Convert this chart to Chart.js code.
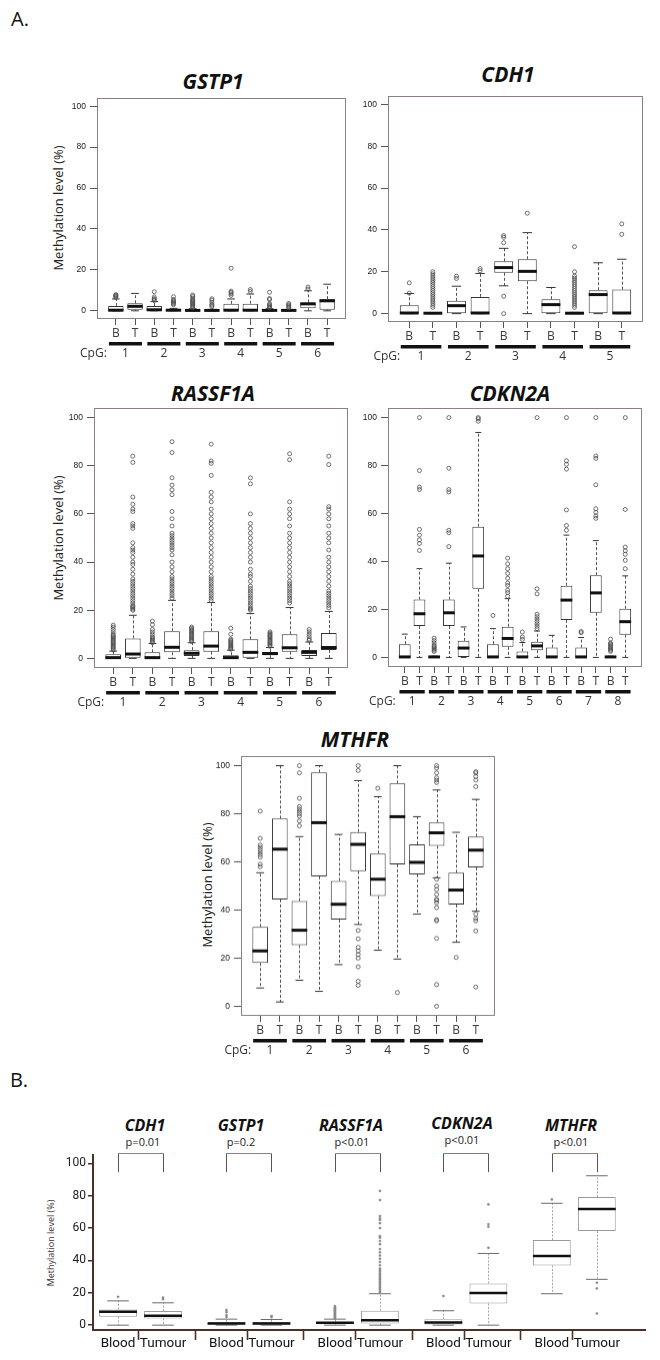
<!DOCTYPE html>
<html><head><meta charset="utf-8">
<script src="https://cdn.jsdelivr.net/npm/chart.js@4.4.0/dist/chart.umd.min.js"></script>
<style>
html,body{margin:0;padding:0;background:#fff;}
#page{position:relative;width:660px;height:1360px;overflow:hidden;background:#fff;font-family:"Open Sans",sans-serif;color:#111;}
canvas{position:absolute;}
.t{position:absolute;transform:translate(-50%,-50%);white-space:nowrap;line-height:1;}
.gt{font-weight:700;font-style:italic;font-size:21px;color:#111;}
.bt{font-weight:700;font-style:italic;font-size:16px;color:#111;}
.pv{font-size:11px;color:#222;}
.yt{transform:translate(-50%,-50%) rotate(-90deg);font-size:13px;color:#222;}
.lab{font-size:20px;color:#111;}
</style></head>
<body><div id="page">
<div class="t lab" style="left:20px;top:19px;">A.</div>
<div class="t gt" style="left:213px;top:81px;">GSTP1</div>
<div class="t gt" style="left:508px;top:74px;">CDH1</div>
<div class="t gt" style="left:213px;top:393px;">RASSF1A</div>
<div class="t gt" style="left:510px;top:393px;">CDKN2A</div>
<div class="t gt" style="left:355px;top:739px;">MTHFR</div>
<div class="t yt" style="left:58px;top:208px;">Methylation level (%)</div>
<div class="t yt" style="left:58px;top:538px;">Methylation level (%)</div>
<div class="t yt" style="left:207px;top:885px;">Methylation level (%)</div>
<div class="t lab" style="left:19px;top:1080px;">B.</div>
<div class="t bt" style="left:145px;top:1125px;">CDH1</div>
<div class="t bt" style="left:241px;top:1125px;">GSTP1</div>
<div class="t bt" style="left:351px;top:1125px;">RASSF1A</div>
<div class="t bt" style="left:462px;top:1123px;">CDKN2A</div>
<div class="t bt" style="left:571px;top:1125px;">MTHFR</div>
<div class="t pv" style="left:143px;top:1141px;">p=0.01</div>
<div class="t pv" style="left:241px;top:1141px;">p=0.2</div>
<div class="t pv" style="left:352px;top:1141px;">p&lt;0.01</div>
<div class="t pv" style="left:462px;top:1139px;">p&lt;0.01</div>
<div class="t pv" style="left:571px;top:1141px;">p&lt;0.01</div>
<div class="t" style="left:50px;top:1243px;transform:translate(-50%,-50%) rotate(-90deg);font-size:9px;color:#333;">Methylation level (%)</div>
</div>
<script>
// ================= DATA =================
const BT = ['B', 'T'];
const Y_TICKS = [0, 20, 40, 60, 80, 100];
const CPG_PREFIX = 'CpG:';

// ---- GSTP1 (B1,T1,B2,T2,...) ----
const gstp1CpG = ['1', '2', '3', '4', '5', '6'];
const gstp1Q1  = [0, 0.5, 0, 0, 0, 0, 0, 0, 0, 0, 1.2, 0.5];
const gstp1Med = [0.3, 2.2, 0.5, 0.3, 0.2, 0.2, 0.3, 0.3, 0.2, 0.2, 3.4, 4.9];
const gstp1Q3  = [2.4, 3.7, 2.3, 0.5, 0.5, 0.3, 3.4, 3.5, 0.4, 0.3, 4.1, 5.7];
const gstp1Lo  = [0, 0, 0, 0, 0, 0, 0, 0, 0, 0, 0, 0];
const gstp1Hi  = [5.8, 8.5, 4.5, 1.2, 1.0, 0.7, 5.8, 8.2, 1.0, 0.7, 9.8, 13];
const gstp1Out = [
  [6.5, 7, 7.3, 7.6, 7.9], [],
  [5, 5.5, 6, 6.8, 9.3], [3, 3.5, 4, 4.5, 5, 5.5, 6.9],
  [1.5, 2, 2.5, 3, 3.5, 4, 4.5, 5, 5.5, 6.2, 7, 7.7], [2, 2.6, 3.2, 4.2, 5.2, 5.9],
  [7.5, 8.3, 9, 9.6, 20.8], [9.5, 10.4],
  [1.5, 2, 2.5, 3, 3.5, 5.5, 6, 9.1], [1.5, 2, 2.5, 3, 3.6],
  [10.6, 11.6], []
];

// ---- CDH1 ----
const cdh1CpG = ['1', '2', '3', '4', '5'];
const cdh1Q1  = [0, 0, 0, 0, 19.5, 15.5, 0, 0, 0, 0];
const cdh1Med = [0.3, 0.2, 3.8, 0.3, 22, 20.2, 4.3, 0.2, 9.1, 0.3];
const cdh1Q3  = [4, 0.3, 6.1, 8, 25, 26, 6.9, 0.3, 11.2, 11.5];
const cdh1Lo  = [0, 0, 0, 0, 13.3, 0, 0, 0, 0, 0];
const cdh1Hi  = [9.6, 0.5, 13.1, 19.2, 31.2, 38.7, 12.5, 0.6, 24.3, 26];
const cdh1Out = [
  [9.8, 14.7], [3, 4, 5, 6, 7, 8, 9, 10, 11, 12, 13, 14, 15, 16, 17, 18, 19, 20],
  [16.8, 17.9], [20.5, 21.5],
  [33.9, 36.5, 37.3, 8.3, 0], [48],
  [], [3, 4, 5, 6, 7, 8, 9, 10, 11, 12, 13, 14, 15, 16, 17, 18, 20, 32],
  [], [37.9, 42.9]
];

// ---- RASSF1A ----
const rassfCpG = ['1', '2', '3', '4', '5', '6'];
const rassfQ1  = [0, 0, 0, 2.5, 1, 2.8, 0, 0, 1.3, 2.8, 1, 3.5];
const rassfMed = [0.3, 1.8, 0.3, 4.6, 2.1, 5.1, 0.3, 2.5, 2, 4.4, 2.5, 4.5];
const rassfQ3  = [1.7, 8.3, 2.5, 11.3, 3.4, 11.3, 1.3, 7.9, 2.6, 10, 3.5, 10.5];
const rassfLo  = [0, 0, 0, 0, 0, 0, 0, 0, 0, 0, 0, 0];
const rassfHi  = [3, 17.9, 6.2, 24.1, 6.5, 23.2, 3.4, 18.6, 4.5, 21.1, 6.8, 19.5];
const rassfOut = [
  [3.5, 4, 4.5, 5, 5.5, 6, 6.5, 7, 7.5, 8, 8.5, 9, 9.5, 10, 11, 12, 13, 13.8],
  [20, 20.5, 21, 21.5, 22, 23, 24, 25, 26, 27, 28, 29, 30, 31, 32, 33, 35, 37, 39, 40, 42, 44, 45, 46, 48, 54, 55, 56, 61, 62, 64, 67, 81.4, 84],
  [6.5, 7, 7.5, 8, 8.5, 9, 10, 11, 12, 14, 15.5],
  [25, 26, 27, 28, 29, 30, 31, 32, 33, 34, 36, 38, 40, 43, 45, 46, 47, 48, 49, 50, 51, 52, 55, 58, 61, 68, 70, 72, 75, 85.5, 90],
  [7, 7.5, 8, 8.5, 9, 9.5, 10, 10.5, 11, 11.5, 12, 12.5, 13],
  [24, 25, 26, 27, 28, 29, 30, 31, 32, 33, 34, 36, 38, 40, 42, 44, 46, 48, 50, 52, 54, 56, 58, 60, 62, 65, 67, 69, 76, 81, 82, 89],
  [3.8, 4.2, 4.6, 5, 5.5, 6, 6.5, 7, 7.5, 8, 10, 12.5],
  [20, 20.5, 21, 22, 23, 24, 25, 26, 27, 28, 29, 30, 32, 34, 35, 37, 40, 42, 44, 46, 48, 50, 52, 54, 56, 60, 72.5, 75],
  [5, 5.5, 6, 6.5, 7, 7.5, 8, 8.5, 9, 9.5, 10, 10.5, 11],
  [23, 24, 25, 26, 27, 28, 29, 30, 31, 32, 34, 36, 38, 40, 42, 44, 46, 48, 50, 52, 55, 58, 60, 62, 65, 82.5, 85],
  [7.5, 8, 9, 10, 11, 12],
  [21, 22, 23, 24, 25, 26, 27, 28, 30, 32, 34, 36, 38, 40, 42, 45, 48, 50, 52, 55, 58, 60, 62, 63, 80.5, 84]
];

// ---- CDKN2A ----
const cdknCpG = ['1', '2', '3', '4', '5', '6', '7', '8'];
const cdknQ1  = [0, 13.1, 0, 13.1, 0, 28.6, 0, 4.4, 0, 3, 0, 15.6, 0, 18.6, 0, 9.5];
const cdknMed = [0.2, 18.2, 0.2, 18.6, 3.9, 42.3, 0.2, 7.9, 0.2, 4.8, 0.2, 23.9, 0.2, 26.9, 0.2, 14.9];
const cdknQ3  = [5.5, 24.1, 0.3, 24.1, 6.9, 54.5, 5.5, 12.8, 2.5, 6.5, 4.1, 29.9, 4.1, 34.3, 0.3, 20.3];
const cdknLo  = [0, 0, 0, 0, 0, 0, 0, 0, 0, 0, 0, 0, 0, 0, 0, 0];
const cdknHi  = [9.7, 37, 0.5, 39.3, 12.7, 93.8, 12, 24.5, 6.2, 11, 9.2, 51, 8.3, 48.7, 0.5, 34];
const cdknOut = [
  [], [44.6, 47.5, 49, 51, 53.4, 70, 71, 77.9, 100],
  [2.5, 3, 3.5, 4, 4.5, 5, 6, 7, 8], [46.2, 52, 53, 69, 70, 78.9, 100],
  [], [98.5, 99.5, 100],
  [17.5], [25.5, 27, 28, 30, 31, 33, 35, 37, 39, 41.4],
  [7.5, 8.5, 10.6], [12, 13, 14, 15, 16, 17, 18, 26.5, 28.6, 100],
  [], [53, 55, 61.5, 78.5, 80.5, 82, 100],
  [10.3, 10.8], [58, 59, 60.5, 62, 72, 83, 84, 100],
  [2.5, 3, 3.5, 4, 4.5, 5, 5.5, 6, 7.6], [37, 40.5, 43, 44.5, 46, 61.7, 100]
];

// ---- MTHFR ----
const mthfrCpG = ['1', '2', '3', '4', '5', '6'];
const mthfrQ1  = [18, 44.4, 25.4, 54, 36, 56.2, 45.8, 59, 54.8, 66.7, 42.3, 57.7];
const mthfrMed = [23, 65.3, 31.6, 76.3, 42.4, 67.3, 52.8, 78.8, 59.8, 72.1, 48.3, 64.9];
const mthfrQ3  = [33, 78, 43.7, 97.2, 52.1, 72.4, 63.5, 92.6, 67.3, 76.4, 55.5, 70.5];
const mthfrLo  = [7.6, 1.8, 10.8, 6.2, 17.3, 34, 23.3, 19.6, 38.3, 53.4, 26.6, 39.5];
const mthfrHi  = [55.5, 100, 70.5, 100, 71.4, 93.8, 87.1, 100, 78.8, 89.9, 72.3, 86];
const mthfrOut = [
  [58, 59, 62, 63, 64, 65, 66, 67, 69.8, 81.1], [],
  [75, 77, 79, 80, 81, 82, 83, 86.4, 97, 100], [],
  [], [98, 100, 31.5, 28, 24.5, 23, 21.5, 20, 16.4, 10.4, 8.7],
  [90.6], [5.7],
  [], [100, 99, 97, 95, 94, 93, 52.8, 50, 48.5, 46.5, 44.5, 44, 43, 41, 36, 35.5, 28.2, 9, 0],
  [20.3], [97.5, 97, 95.5, 94, 91.3, 38.3, 36.5, 35.5, 31.3, 8]
];

// ---- Panel B (Blood / Tumour per gene) ----
const bGenes = ['CDH1', 'GSTP1', 'RASSF1A', 'CDKN2A', 'MTHFR'];
const bGroupLabels = ['Blood', 'Tumour'];
const bQ1  = [5.2, 4.1, 0, 0, 0.5, 1, 0, 13.4, 36.9, 58.1];
const bMed = [8.2, 5.8, 1, 1, 1.5, 3.1, 1.6, 19.8, 42.7, 71.7];
const bQ3  = [9.7, 8.7, 2, 2, 2, 8.9, 3.7, 25.8, 52.6, 79.2];
const bLo  = [0, 0, 0, 0, 0, 0, 0, 0, 19.4, 28.3];
const bHi  = [15, 13.8, 3.7, 3.5, 3.7, 19.4, 8.9, 44.3, 75.3, 92.3];
const bOut = [
  [17.5], [16, 17],
  [5, 6.2, 8, 9.3], [5, 5.6],
  [4, 4.5, 5, 5.5, 6, 6.5, 7, 7.5, 8, 8.5, 9, 9.5, 10, 10.5, 11, 11.7],
  [20, 21, 22, 23, 24, 25, 26, 27, 28, 29, 30, 31, 32, 33, 34, 35, 37, 39, 41, 43, 45, 47, 50, 52, 54, 55, 60, 63, 65, 66, 67.4, 77.3, 82.9],
  [18], [47.8, 60.8, 62.3, 74.6],
  [77.7], [26.2, 22.7, 7.2]
];

// ================= RENDERING =================
function hasFont(name) {
  const c = document.createElement('canvas').getContext('2d');
  const s = 'Blood Tumour 100';
  c.font = '40px monospace'; const a = c.measureText(s).width;
  c.font = '40px "' + name + '", monospace'; const b = c.measureText(s).width;
  return Math.abs(a - b) > 0.5;
}
const NARROW_OK = hasFont('Liberation Sans Narrow');
const NARROW = NARROW_OK ? '"Liberation Sans Narrow"' : 'Roboto';

const STY_A = {box: '#333', fill: '#fff', med: '#111', medW: 3, whisk: '#555', dash: [3, 2], cap: '#333',
  out: '#4d4d4d', outR: 2, outBW: 0.8, outFill: 'rgba(0,0,0,0)', boxW: 0.8, medHalf: 0.4, capHalf: 0.2};
const STY_B = {box: '#9a9a9a', fill: '#fff', med: '#111', medW: 2.5, whisk: '#a5a5a5', dash: [2, 1.5], cap: '#6a6a6a',
  out: '#8a8a8a', outR: 1.1, outBW: 0.5, outFill: '#8a8a8a', boxW: 0.84, medHalf: 0.42, capHalf: 0.24};

function boxChart(o) {
  const cv = document.createElement('canvas');
  cv.width = o.width; cv.height = o.height;
  cv.style.left = o.left + 'px'; cv.style.top = o.top + 'px';
  cv.style.width = o.width + 'px'; cv.style.height = o.height + 'px';
  document.getElementById('page').appendChild(cv);
  const s = o.style, xs = o.xs;
  const unit = c => { const x = c.chart.scales.x; return Math.abs(x.getPixelForValue(1) - x.getPixelForValue(0)); };
  const boxes = xs.map((x, i) => ({x, y: [o.q1[i], o.q3[i]]}));
  const meds = xs.map((x, i) => ({x, y: o.med[i]}));
  const caps = xs.flatMap((x, i) => [{x, y: o.hi[i]}, {x, y: o.lo[i]}]);
  const outs = xs.flatMap((x, i) => o.out[i].map(v => ({x, y: v})));
  const whiskers = {
    id: 'whiskers',
    beforeDatasetsDraw(chart) {
      const {ctx, scales: {x, y}} = chart;
      ctx.save(); ctx.strokeStyle = s.whisk; ctx.lineWidth = 1; ctx.setLineDash(s.dash);
      xs.forEach((xv, i) => {
        const px = Math.round(x.getPixelForValue(xv)) + 0.5;
        ctx.beginPath();
        ctx.moveTo(px, y.getPixelForValue(o.q3[i])); ctx.lineTo(px, y.getPixelForValue(o.hi[i]));
        ctx.moveTo(px, y.getPixelForValue(o.q1[i])); ctx.lineTo(px, y.getPixelForValue(o.lo[i]));
        ctx.stroke();
      });
      ctx.restore();
    }
  };
  return new Chart(cv, {
    type: 'bar',
    data: {datasets: [
      {type: 'scatter', data: outs, order: 0, pointStyle: 'circle', pointRadius: s.outR, pointBorderWidth: s.outBW,
        pointBorderColor: s.out, pointBackgroundColor: s.outFill, clip: false},
      {type: 'scatter', data: meds, order: 1, pointStyle: 'line', pointRadius: c => unit(c) * s.medHalf,
        pointBorderWidth: s.medW, pointBorderColor: s.med, clip: false},
      {type: 'scatter', data: caps, order: 2, pointStyle: 'line', pointRadius: c => unit(c) * s.capHalf,
        pointBorderWidth: 1, pointBorderColor: s.cap, clip: false},
      {type: 'bar', data: boxes, order: 3, backgroundColor: s.fill, borderColor: s.box, borderWidth: 1,
        borderSkipped: false, barPercentage: s.boxW, categoryPercentage: 1}
    ]},
    options: {
      responsive: false, animation: false, events: [],
      layout: {padding: {left: 0, top: o.plot.T - o.top, right: o.left + o.width - o.plot.R, bottom: 0}},
      plugins: {legend: {display: false}, tooltip: {enabled: false}, title: {display: false}},
      scales: {
        x: {type: 'linear', min: o.xmin, max: o.xmax, offset: false,
          afterBuildTicks: sc => { sc.ticks = xs.map(v => ({value: v})); },
          afterFit: sc => { sc.height = o.top + o.height - o.plot.B; },
          ticks: {autoSkip: false, maxRotation: 0, minRotation: 0, padding: o.xPad, font: o.xFont, color: o.xColor,
            callback: (v, i) => o.tickLabels[i]},
          grid: {display: o.xTickMarks, drawOnChartArea: false, drawTicks: o.xTickMarks, tickLength: o.xTickLen,
            color: o.tickColor, offset: false},
          border: {display: o.xBorder, color: o.axisColor, width: o.axisWidth}
        },
        y: {type: 'linear', min: o.ymin, max: o.ymax,
          afterBuildTicks: sc => { sc.ticks = Y_TICKS.map(v => ({value: v})); },
          afterFit: sc => { sc.width = o.plot.L - o.left; },
          ticks: {padding: o.yPad, font: o.yFont, color: o.yColor},
          grid: {drawOnChartArea: false, drawTicks: true, tickLength: o.yTickLen, color: o.tickColor, lineWidth: o.yTickW},
          border: {display: o.yBorder, color: o.axisColor, width: o.axisWidth}
        }
      }
    },
    plugins: [whiskers].concat(o.plugins || [])
  });
}

function panelA(plot, q1, med, q3, lo, hi, out, cpg) {
  const n = q1.length;
  const xs = q1.map((_, i) => i + 1);
  const ext = 0.04 * n;
  const frame = {
    id: 'frame',
    afterDraw(chart) {
      const {ctx, chartArea: ca, scales: {x}} = chart;
      ctx.save();
      ctx.strokeStyle = '#8c8080'; ctx.lineWidth = 1;
      ctx.strokeRect(Math.round(ca.left) + 0.5, Math.round(ca.top) + 0.5,
        Math.round(ca.right) - Math.round(ca.left) - 1, Math.round(ca.bottom) - Math.round(ca.top) - 1);
      const sp = x.getPixelForValue(2) - x.getPixelForValue(1);
      ctx.font = '12px "Open Sans"'; ctx.textBaseline = 'middle';
      cpg.forEach((lab, k) => {
        const a = x.getPixelForValue(xs[2 * k]), b = x.getPixelForValue(xs[2 * k + 1]);
        ctx.fillStyle = '#111';
        ctx.fillRect(a - 0.36 * sp, ca.bottom + 23, b - a + 0.72 * sp, 3.5);
        ctx.fillStyle = '#333'; ctx.textAlign = 'center';
        ctx.fillText(lab, (a + b) / 2, ca.bottom + 34.5);
      });
      ctx.textAlign = 'right'; ctx.fillStyle = '#333';
      ctx.fillText(CPG_PREFIX, x.getPixelForValue(xs[0]) - 9, ca.bottom + 34.5);
      ctx.restore();
    }
  };
  return boxChart({
    left: plot.L - 47, top: plot.T - 10, width: plot.R - plot.L + 57, height: plot.B - plot.T + 55,
    plot, xs, q1, med, q3, lo, hi, out, style: STY_A,
    xmin: 0.5 - ext, xmax: n + 0.5 + ext, ymin: -4, ymax: 104,
    tickLabels: xs.map((_, i) => BT[i % 2]),
    xPad: 1, xFont: {family: '"Open Sans"', size: 12}, xColor: '#3a3a3a', xTickMarks: true, xTickLen: 6,
    yPad: 4, yFont: {family: '"Liberation Sans", Arial', size: 8.5}, yColor: '#1a1a1a', yTickLen: 7, yTickW: 1,
    tickColor: '#555', xBorder: false, yBorder: false, axisColor: '#555', axisWidth: 1,
    plugins: [frame]
  });
}

panelA({L: 97, T: 98, R: 346, B: 319}, gstp1Q1, gstp1Med, gstp1Q3, gstp1Lo, gstp1Hi, gstp1Out, gstp1CpG);
panelA({L: 388, T: 96, R: 643, B: 322}, cdh1Q1, cdh1Med, cdh1Q3, cdh1Lo, cdh1Hi, cdh1Out, cdh1CpG);
panelA({L: 94, T: 408, R: 348, B: 668}, rassfQ1, rassfMed, rassfQ3, rassfLo, rassfHi, rassfOut, rassfCpG);
panelA({L: 388, T: 408, R: 642, B: 667}, cdknQ1, cdknMed, cdknQ3, cdknLo, cdknHi, cdknOut, cdknCpG);
panelA({L: 241, T: 756, R: 495, B: 1015.6}, mthfrQ1, mthfrMed, mthfrQ3, mthfrLo, mthfrHi, mthfrOut, mthfrCpG);

// ---- Panel B ----
const GROUP_STEP = 2.41;
const bPos = bQ1.map((_, i) => Math.floor(i / 2) * GROUP_STEP + (i % 2));
const bTickLabels = bPos.map((_, i) => bGroupLabels[i % 2]);
const bDividers = [];
bGenes.forEach((g, k) => {
  bDividers.push(bPos[2 * k] + 0.45);
  if (k < bGenes.length - 1) bDividers.push((bPos[2 * k + 1] + bPos[2 * k + 2]) / 2);
});
const bDecor = {
  id: 'bDecor',
  afterDraw(chart) {
    const {ctx, chartArea: ca, scales: {x}} = chart;
    ctx.save();
    ctx.strokeStyle = '#4a3028'; ctx.lineWidth = 1.6;
    bDividers.forEach(v => {
      const px = Math.round(x.getPixelForValue(v)) + 0.5;
      ctx.beginPath(); ctx.moveTo(px, ca.bottom); ctx.lineTo(px, ca.bottom + 10); ctx.stroke();
    });
    const topCols = ['#c86a62', '#c86a62', '#c86a62', '#4a8f9c', '#c86a62'];
    bGenes.forEach((g, k) => {
      const a = Math.round(x.getPixelForValue(bPos[2 * k])) + 0.5;
      const b = Math.round(x.getPixelForValue(bPos[2 * k + 1])) + 0.5;
      const top = Math.round(ca.top - 2) + 0.5, bot = ca.top + 17;
      ctx.lineWidth = 1; ctx.strokeStyle = '#555';
      ctx.beginPath(); ctx.moveTo(a, top); ctx.lineTo(a, bot); ctx.moveTo(b, top); ctx.lineTo(b, bot); ctx.stroke();
      ctx.strokeStyle = topCols[k];
      ctx.beginPath(); ctx.moveTo(a, top); ctx.lineTo(b, top); ctx.stroke();
    });
    ctx.restore();
  }
};
boxChart({
  left: 0, top: 1145, width: 660, height: 215,
  plot: {L: 93, T: 1155.2, R: 645, B: 1330},
  xs: bPos, q1: bQ1, med: bMed, q3: bQ3, lo: bLo, hi: bHi, out: bOut, style: STY_B,
  xmin: -0.556, xmax: 11.71, ymin: -3, ymax: 105,
  tickLabels: bTickLabels,
  xPad: 6, xFont: {family: NARROW, size: NARROW_OK ? 15 : 13.5}, xColor: '#111', xTickMarks: false, xTickLen: 0,
  yPad: 2, yFont: {family: NARROW, size: NARROW_OK ? 13 : 12}, yColor: '#222', yTickLen: 5, yTickW: 1.5,
  tickColor: '#4a3028', xBorder: true, yBorder: true, axisColor: '#4a3028', axisWidth: 2,
  plugins: [bDecor]
});
</script>
</body></html>
